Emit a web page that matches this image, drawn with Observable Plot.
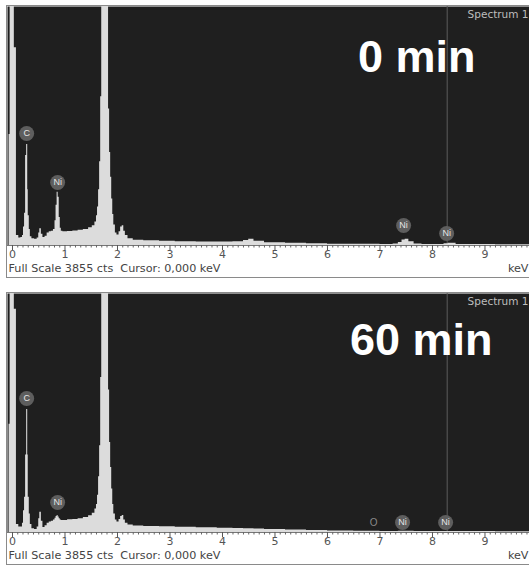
<!DOCTYPE html>
<html><head><meta charset="utf-8">
<script src="https://cdn.jsdelivr.net/npm/d3@7"></script>
<script src="https://cdn.jsdelivr.net/npm/@observablehq/plot@0.6"></script>
<style>
body{margin:0;background:#fff;font-family:"Liberation Sans",Arial,sans-serif;}
.panel{position:relative;width:529px;height:287px;overflow:hidden;}
.panel .border{position:absolute;left:6px;top:5px;width:540px;height:273px;border:1px solid #8a8a8a;pointer-events:none;box-sizing:border-box;}
svg{display:block}
</style></head><body>
<div id="chart"></div>
<script>
// Energy channels (keV)
const energies = [-0.095,-0.065,-0.045,0.035,0.075,0.12,0.16,0.19,0.21,0.23,0.25,0.27,0.29,0.30,0.32,0.34,0.37,0.42,0.47,0.50,0.52,0.55,0.58,0.62,0.66,0.70,0.74,0.78,0.81,0.83,0.85,0.87,0.89,0.91,0.93,0.96,1.05,1.15,1.25,1.35,1.45,1.52,1.57,1.60,1.62,1.64,1.66,1.68,1.70,1.76,1.83,1.85,1.87,1.89,1.91,1.93,1.96,1.99,2.03,2.06,2.09,2.12,2.15,2.2,2.3,2.5,2.8,3.1,3.5,3.9,4.2,4.4,4.5,4.6,4.8,5.2,5.6,6.0,6.5,7.0,7.25,7.35,7.42,7.48,7.55,7.65,7.8,8.1,8.22,8.3,8.45,8.8,9.2,9.85];
// Counts, 0 min
const counts0 = [0,1790,4500,3190,160,120,130,160,300,520,1450,1630,900,480,260,140,110,100,120,200,270,180,130,150,200,220,230,260,400,650,860,780,450,280,230,220,225,235,245,260,285,320,380,480,620,900,1350,2400,4500,4500,2200,1500,1100,750,500,330,200,170,220,300,320,230,160,110,85,75,70,62,58,55,60,80,100,70,45,35,28,22,20,18,25,50,90,100,60,25,18,18,30,35,18,15,14,14];
// Counts, 60 min
const counts60 = [0,1745,4500,3600,130,90,90,150,350,570,1250,1985,1250,570,300,130,60,50,90,220,325,180,80,110,150,170,180,200,230,260,275,250,220,200,195,195,205,210,220,240,270,310,380,450,600,900,1400,2500,4500,4500,2300,1450,1050,700,450,300,200,170,210,260,275,200,150,120,105,98,92,85,78,70,66,62,60,55,50,40,33,26,22,18,18,20,22,22,20,18,16,16,17,17,16,15,14,14];

// Element badges
const badgeText0 = ["C","Ni","Ni","Ni"];
const badgeE0 = [0.27,0.86,7.45,8.27];
const badgeC0 = [1807,1016,323,194];
const badgeText60 = ["C","Ni","Ni","Ni"];
const badgeE60 = [0.27,0.86,7.43,8.25];
const badgeC60 = [2161,484,161,161];
const plainText60 = ["O"];
const plainE60 = [6.88];
const plainC60 = [161];

const majorTicks = d3.range(0,10);
const minorTicks = d3.range(0,99).map(i=>i/10).filter(v=>v<=9.84 && Math.abs(v-Math.round(v))>1e-6);
const markerLine = [8.28];

function panel(counts, bt, be, bc, title, titleDx, titleDy, pt, pe, pc) {
  const data = energies.map((e,i)=>({e, c: counts[i]}));
  const badges = bt.map((t,i)=>({t, e: be[i], c: bc[i]}));
  const plain = (pt||[]).map((t,i)=>({t, e: pe[i], c: pc[i]}));
  const font = "Liberation Sans, Arial, sans-serif";
  const sysFont = "DejaVu Sans, Verdana, sans-serif";
  return Plot.plot({
    width: 529, height: 287,
    marginLeft: 7, marginRight: 0, marginTop: 6, marginBottom: 42,
    style: {background: "transparent", fontFamily: font},
    x: {domain: [-0.095, 9.848]},
    y: {domain: [0, 3855], range: [245, 6], axis: null},
    marks: [
      Plot.frame({fill: "#1f1f1f"}),
      Plot.ruleX(markerLine, {stroke: "#5c5c5c", strokeWidth: 1}),
      Plot.areaY(data, {x: "e", y: "c", curve: "step-after", fill: "#dcdcdc", clip: true}),
      Plot.dot(badges, {x: "e", y: "c", r: 7.5, fill: "#5e5e5e"}),
      Plot.text(badges, {x: "e", y: "c", text: "t", fill: "#e6e6e6", fontSize: 9}),
      Plot.text(plain, {x: "e", y: "c", text: "t", fill: "#8a8a8a", fontSize: 10}),
      Plot.text([title], {frameAnchor: "top-right", dx: titleDx, dy: titleDy, lineAnchor: "top", textAnchor: "end", fontSize: 45, fontWeight: "bold", fill: "#ffffff"}),
      Plot.text(["Spectrum 1"], {frameAnchor: "top-right", dx: -1, dy: 4, lineAnchor: "top", textAnchor: "end", fontSize: 10.5, fill: "#bdbdbd", fontFamily: sysFont}),
      Plot.ruleY([0], {stroke: "#777"}),
      Plot.axisX(minorTicks, {tickSize: 2.5, tickFormat: () => "", stroke: "#666", label: null}),
      Plot.axisX(majorTicks, {tickSize: 5, tickPadding: 0, fontSize: 11, fill: "#555", stroke: "#555", label: null, fontFamily: sysFont}),
      Plot.text(["Full Scale 3855 cts  Cursor: 0,000 keV"], {frameAnchor: "bottom-left", dx: 1, dy: 23, textAnchor: "start", lineAnchor: "middle", fontSize: 11.2, fill: "#444", fontFamily: sysFont}),
      Plot.text(["keV"], {frameAnchor: "bottom-right", dx: -1, dy: 23, textAnchor: "end", lineAnchor: "middle", fontSize: 11.2, fill: "#444", fontFamily: sysFont})
    ]
  });
}

const root = document.getElementById("chart");
const specs = [
  [counts0, badgeText0, badgeE0, badgeC0, "0 min", -54, 34],
  [counts60, badgeText60, badgeE60, badgeC60, "60 min", -37, 30, plainText60, plainE60, plainC60]
];
for (const s of specs) {
  const div = document.createElement("div");
  div.className = "panel";
  div.appendChild(panel(...s));
  const b = document.createElement("div");
  b.className = "border";
  div.appendChild(b);
  root.appendChild(div);
}
</script>
</body></html>
